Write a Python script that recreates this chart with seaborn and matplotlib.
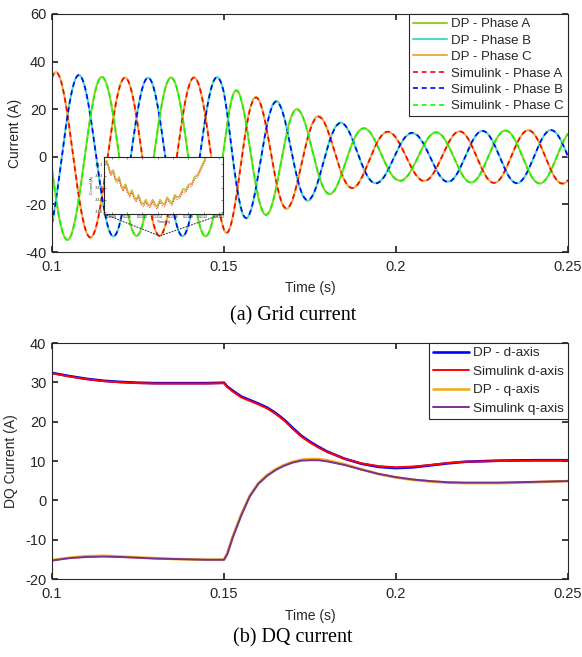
import numpy as np
import pandas as pd
import seaborn as sns
import matplotlib.pyplot as plt
from matplotlib.patches import ConnectionPatch

sns.set_theme(style='ticks')
plt.rcParams['font.family'] = ['Liberation Sans', 'DejaVu Sans']
plt.rcParams.update({
    'xtick.direction': 'in', 'ytick.direction': 'in',
    'xtick.top': True, 'ytick.right': True,
    'axes.linewidth': 0.8, 'axes.edgecolor': '#262626',
    'xtick.color': '#262626', 'ytick.color': '#262626',
    'xtick.major.size': 4, 'ytick.major.size': 4,
    'xtick.major.pad': 5.5, 'ytick.major.pad': 4,
    'xtick.labelsize': 10.5, 'ytick.labelsize': 10.5,
    'axes.labelsize': 10, 'text.color': '#262626',
    'axes.unicode_minus': False,
})

# DQ currents
t_dq = [0.100, 0.105, 0.110, 0.115, 0.120, 0.125, 0.130, 0.135, 0.140, 0.145,
        0.150, 0.151, 0.1525, 0.155, 0.1575, 0.160, 0.1625, 0.165, 0.1675, 0.170,
        0.1725, 0.175, 0.1775, 0.180, 0.185, 0.190, 0.195, 0.200, 0.205, 0.210,
        0.215, 0.220, 0.230, 0.240, 0.250]
d_dp = [32.4, 31.6, 30.9, 30.4, 30.1, 29.9, 29.8, 29.8, 29.8, 29.8,
        29.9, 28.9, 27.9, 26.4, 25.5, 24.6, 23.6, 22.2, 20.5, 18.4,
        16.4, 14.9, 13.6, 12.4, 10.6, 9.3, 8.5, 8.2, 8.4, 8.9,
        9.4, 9.8, 10.1, 10.2, 10.2]
d_sim = [32.3, 31.5, 30.8, 30.3, 30.0, 29.8, 29.7, 29.7, 29.7, 29.7,
         29.8, 28.8, 27.7, 26.2, 25.3, 24.4, 23.4, 22.0, 20.3, 18.2,
         16.2, 14.7, 13.4, 12.3, 10.6, 9.4, 8.7, 8.4, 8.6, 9.0,
         9.5, 9.8, 10.0, 10.1, 10.1]
q_dp = [-15.2, -14.6, -14.2, -14.1, -14.3, -14.5, -14.7, -14.9, -15.0, -15.1,
        -15.1, -13.4, -9.3, -3.6, 1.2, 4.4, 6.4, 7.9, 9.0, 9.8,
        10.3, 10.5, 10.5, 10.2, 9.2, 7.9, 6.7, 5.8, 5.2, 4.8,
        4.5, 4.4, 4.4, 4.6, 4.9]
q_sim = [-15.3, -14.7, -14.4, -14.3, -14.4, -14.6, -14.8, -14.9, -15.0, -15.1,
         -15.1, -13.6, -9.6, -3.9, 1.0, 4.2, 6.2, 7.7, 8.8, 9.6,
         10.1, 10.2, 10.2, 9.9, 9.0, 7.8, 6.7, 5.9, 5.3, 4.9,
         4.6, 4.5, 4.5, 4.7, 4.9]

# grid frequency and time of first phase-A peak
f_grid = 50.0
t_peak_a = 0.1012

# zoomed trace shown in the inset of panel (a)
inset_t = [0.130709, 0.130734, 0.130764, 0.130786, 0.130820, 0.130846, 0.130871,
           0.130897, 0.130923, 0.130949, 0.130979, 0.131009, 0.131034, 0.131064,
           0.131094, 0.131120, 0.131150, 0.131180, 0.131214, 0.131244, 0.131274,
           0.131300, 0.131334, 0.131364, 0.131394, 0.131429, 0.131459, 0.131489,
           0.131523, 0.131557, 0.131587, 0.131621, 0.131651, 0.131686, 0.131729,
           0.131763, 0.131806, 0.131840, 0.131879, 0.131921, 0.131964, 0.132007,
           0.132029]
inset_i = [-33.19, -33.17, -33.23, -33.28, -33.25, -33.32, -33.34, -33.31, -33.38,
           -33.41, -33.37, -33.43, -33.46, -33.42, -33.48, -33.50, -33.46, -33.52,
           -33.54, -33.50, -33.54, -33.55, -33.50, -33.54, -33.56, -33.50, -33.53,
           -33.54, -33.48, -33.51, -33.53, -33.46, -33.48, -33.47, -33.41, -33.42,
           -33.37, -33.37, -33.31, -33.29, -33.23, -33.17, -33.14]
inset_i_sim = [-33.21, -33.19, -33.25, -33.30, -33.27, -33.34, -33.36, -33.33, -33.40,
               -33.43, -33.39, -33.45, -33.48, -33.44, -33.50, -33.52, -33.48, -33.54,
               -33.56, -33.52, -33.56, -33.57, -33.52, -33.56, -33.58, -33.52, -33.55,
               -33.56, -33.50, -33.53, -33.55, -33.48, -33.50, -33.49, -33.43, -33.44,
               -33.39, -33.39, -33.33, -33.31, -33.25, -33.19, -33.16]

# three-phase currents rebuilt from the dq values (inverse Park)
t = np.linspace(0.1, 0.25, 3001)
w = 2 * np.pi * f_grid
d0 = np.interp(t_peak_a, t_dq, d_dp)
q0 = np.interp(t_peak_a, t_dq, q_dp)
theta = w * (t - t_peak_a) - np.arctan2(q0, d0)


def abc(d_list, q_list):
    d = np.interp(t, t_dq, d_list)
    q = np.interp(t, t_dq, q_list)
    out = []
    for shift in [0, -2 * np.pi / 3, 2 * np.pi / 3]:
        out.append(d * np.cos(theta + shift) - q * np.sin(theta + shift))
    return out


ia_dp, ib_dp, ic_dp = abc(d_dp, q_dp)
ia_sim, ib_sim, ic_sim = abc(d_sim, q_sim)

fig = plt.figure(figsize=(5.82, 6.57), dpi=100)
ax1 = fig.add_axes([0.0893, 0.6164, 0.8866, 0.3623])
ax2 = fig.add_axes([0.0893, 0.1187, 0.8866, 0.3592])

# ---- panel (a)
sns.lineplot(x=t, y=ic_dp, ax=ax1, color='#9ACD32', lw=1.5, label='DP - Phase A')
sns.lineplot(x=t, y=ib_dp, ax=ax1, color='#48DDC0', lw=1.5, label='DP - Phase B')
sns.lineplot(x=t, y=ia_dp, ax=ax1, color='#E8B04A', lw=1.5, label='DP - Phase C')
sns.lineplot(x=t, y=ia_sim, ax=ax1, color='#FF0000', lw=1.2, label='Simulink - Phase A',
             dashes=(3, 2.2))
sns.lineplot(x=t, y=ib_sim, ax=ax1, color='#0000FF', lw=1.2, label='Simulink - Phase B',
             dashes=(3, 2.2))
sns.lineplot(x=t, y=ic_sim, ax=ax1, color='#00FF00', lw=1.2, label='Simulink - Phase C',
             dashes=(3, 2.2))
ax1.set_xlim(0.1, 0.25)
ax1.set_ylim(-40, 60)
ax1.set_xticks([0.1, 0.15, 0.2, 0.25])
ax1.set_xticklabels(['0.1', '0.15', '0.2', '0.25'])
ax1.set_yticks([-40, -20, 0, 20, 40, 60])
ax1.set_xlabel('Time (s)')
ax1.set_ylabel('Current (A)')
ax1.xaxis.set_label_coords(0.5, -0.12)
ax1.yaxis.set_label_coords(-0.058, 0.5)
leg = ax1.legend(loc='upper right', borderaxespad=0, fancybox=False, edgecolor='#262626',
                 framealpha=1, fontsize=9.5, handlelength=2.6, handletextpad=0.3,
                 labelspacing=0.32, borderpad=0.3)
leg.get_frame().set_linewidth(0.8)

# inset
axin = fig.add_axes([0.1787, 0.6743, 0.2045, 0.0868])
sns.lineplot(x=inset_t, y=inset_i, ax=axin, color='#9ACD32', lw=1.2)
sns.lineplot(x=inset_t, y=inset_i, ax=axin, color='#E8B04A', lw=0.8)
sns.lineplot(x=inset_t, y=inset_i_sim, ax=axin, color='#FF3030', lw=0.6, dashes=(1.5, 1.5))
axin.set_xlim(0.13070, 0.13225)
axin.set_ylim(-33.62, -33.14)
axin.set_xticks([0.1308, 0.131, 0.1312, 0.1314, 0.1316, 0.1318, 0.132, 0.1322])
axin.set_xticklabels(['0.1308', '0.131', '0.1312', '0.1314', '0.1316', '0.1318', '0.132', '0.1322'])
axin.set_yticks([-33.6, -33.5, -33.4, -33.3, -33.2])
axin.tick_params(labelsize=2.6, length=1.5, pad=1, width=0.4)
axin.set_xlabel('Time (s)', fontsize=2.6, labelpad=0.5)
axin.set_ylabel('Current (A)', fontsize=2.6, labelpad=0.5)
for s in axin.spines.values():
    s.set_linewidth(0.8)

# connectors from the inset to the trough it magnifies
win = (t > 0.125) & (t < 0.137)
k = np.argmin(ia_dp[win])
trough = (t[win][k], ia_dp[win][k])
for corner in [(0, 0), (1, 0)]:
    con = ConnectionPatch(xyA=corner, coordsA=axin.transAxes, xyB=trough, coordsB=ax1.transData,
                          color='#404040', lw=0.8, ls=':')
    fig.add_artist(con)

# ---- panel (b)
sns.lineplot(x=t_dq, y=d_dp, ax=ax2, color='#0000FF', lw=1.9, label='DP - d-axis')
sns.lineplot(x=t_dq, y=d_sim, ax=ax2, color='#FF0000', lw=1.4, label='Simulink d-axis')
sns.lineplot(x=t_dq, y=q_dp, ax=ax2, color='#EDB120', lw=1.9, label='DP - q-axis')
sns.lineplot(x=t_dq, y=q_sim, ax=ax2, color='#7E2F8E', lw=1.4, label='Simulink q-axis')
ax2.set_xlim(0.1, 0.25)
ax2.set_ylim(-20, 40)
ax2.set_xticks([0.1, 0.15, 0.2, 0.25])
ax2.set_xticklabels(['0.1', '0.15', '0.2', '0.25'])
ax2.set_yticks([-20, -10, 0, 10, 20, 30, 40])
ax2.set_xlabel('Time (s)')
ax2.set_ylabel('DQ Current (A)')
ax2.xaxis.set_label_coords(0.5, -0.127)
ax2.yaxis.set_label_coords(-0.066, 0.5)
leg2 = ax2.legend(loc='upper right', borderaxespad=0, fancybox=False, edgecolor='#262626',
                  framealpha=1, fontsize=9.7, handlelength=2.7, handletextpad=0.3,
                  labelspacing=0.45, borderpad=0.3)
leg2.get_frame().set_linewidth(0.8)

fig.text(0.503, 0.519, '(a) Grid current', family='Liberation Serif', fontsize=14.5,
         ha='center', va='center', color='black')
fig.text(0.503, 0.029, '(b) DQ current', family='Liberation Serif', fontsize=14.5,
         ha='center', va='center', color='black')

fig.savefig('out.png', dpi=100)
